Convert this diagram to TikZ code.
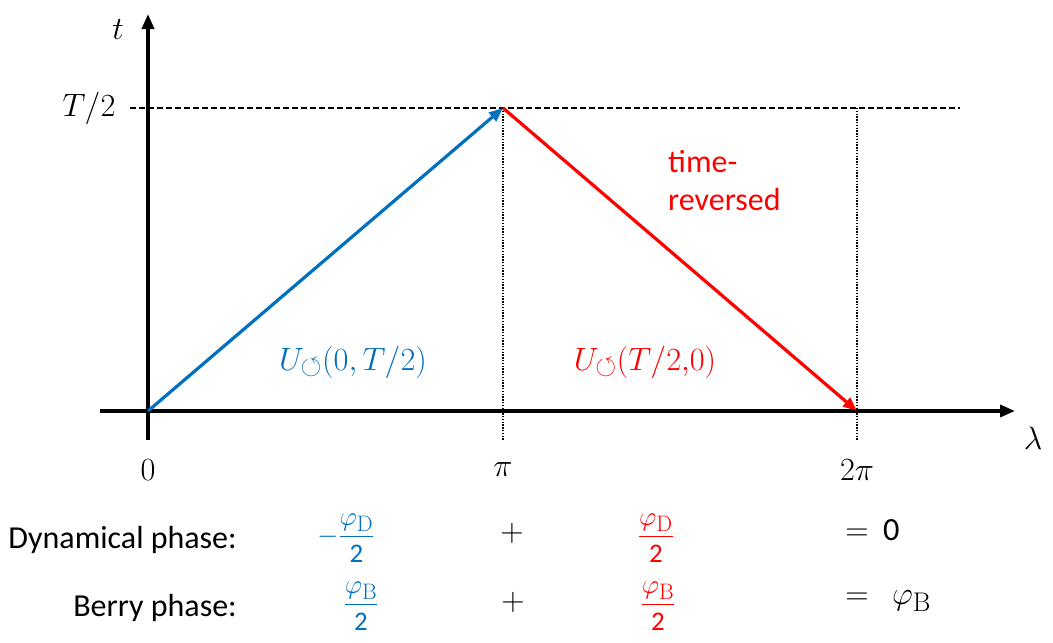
\documentclass[tikz,border=0pt]{standalone}
\usepackage{amsmath,amssymb}
\usepackage[no-math]{fontspec}
\setmainfont{Carlito}
\usetikzlibrary{arrows.meta}
\definecolor{myblue}{RGB}{0,112,192}
\definecolor{myred}{RGB}{255,0,0}
\newcommand{\bigfs}{\fontsize{32}{38}\selectfont}
\begin{document}
\begin{tikzpicture}[x=1pt,y=-1pt,
  axisline/.style={line width=3.5pt,-{Triangle[length=15pt,width=12pt]}},
  pathline/.style={line width=3.2pt,-{Triangle[length=14pt,width=11pt]}},
  guide/.style={line width=1.3pt,dash pattern=on 6pt off 3pt},
  dotline/.style={line width=1.3pt,dash pattern=on 1.4pt off 1.4pt},
  lab/.style={inner sep=0pt,font=\Huge,scale=1.3},
  fr/.style={inner sep=0pt,font=\Huge,scale=1.08},
  txt/.style={inner sep=0pt,font=\bigfs}]
\useasboundingbox (0,0) rectangle (1053,643);
% coordinates
\coordinate (O) at (148,411);
\coordinate (P) at (503,108);
\coordinate (Q) at (857,411);
\coordinate (xs) at (100,411);
\coordinate (xe) at (1015,411);
\coordinate (ys) at (148,440);
\coordinate (ye) at (148,14);
\coordinate (hs) at (130,108);
\coordinate (he) at (960,108);
\coordinate (pb) at (503,440);
\coordinate (qt) at (857,108);
\coordinate (qb) at (857,440);
% guides
\draw[guide] (hs) -- (he);
\draw[dotline] (P) -- (pb);
\draw[dotline] (qt) -- (qb);
% axes
\draw[axisline] (xs) -- (xe);
\draw[axisline] (ys) -- (ye);
% paths
\draw[pathline,myblue] (O) -- (P);
\draw[pathline,myred] (P) -- (Q);
% axis labels
\node[lab] (tl) at (118,30) {$t$};
\node[lab] (ll) at (1033,438) {$\lambda$};
\node[lab] (th) at (89,108) {$T/2$};
\node[lab] (z0) at (148,470) {$0$};
\node[lab] (z1) at (503,470) {$\pi$};
\node[lab] (z2) at (857,470) {$2\pi$};
% path labels
\node[lab,myblue] (ub) at (353,362) {$U_{\circlearrowleft}(0,T/2)$};
\node[lab,myred] (ur) at (645,362) {$U_{\circlearrowleft}(T/2{,}0)$};
\node[txt,myred,align=left,anchor=north west] (tr) at (668,150) {time-\\reversed};
% phase rows
\node[txt,anchor=east] (dp) at (237,540) {Dynamical phase:};
\node[txt,anchor=east] (bp) at (237,608) {Berry phase:};
\node[fr,myblue] (d1) at (346,538) {$-\dfrac{\varphi_{\mathrm{D}}}{\textrm{2}}$};
\node[lab] (d2) at (512,533) {$+$};
\node[fr,myred] (d3) at (656,538) {$\dfrac{\varphi_{\mathrm{D}}}{\textrm{2}}$};
\node[lab,anchor=west] (d4) at (845,530) {$=$\ \ \textrm{0}};
\node[fr,myblue] (b1) at (361,606) {$\dfrac{\varphi_{\mathrm{B}}}{\textrm{2}}$};
\node[lab] (b2) at (513,602) {$+$};
\node[fr,myred] (b3) at (658,606) {$\dfrac{\varphi_{\mathrm{B}}}{\textrm{2}}$};
\node[lab,anchor=west] (b4) at (845,601) {$=\ \ \varphi_{\mathrm{B}}$};
\end{tikzpicture}
\end{document}
